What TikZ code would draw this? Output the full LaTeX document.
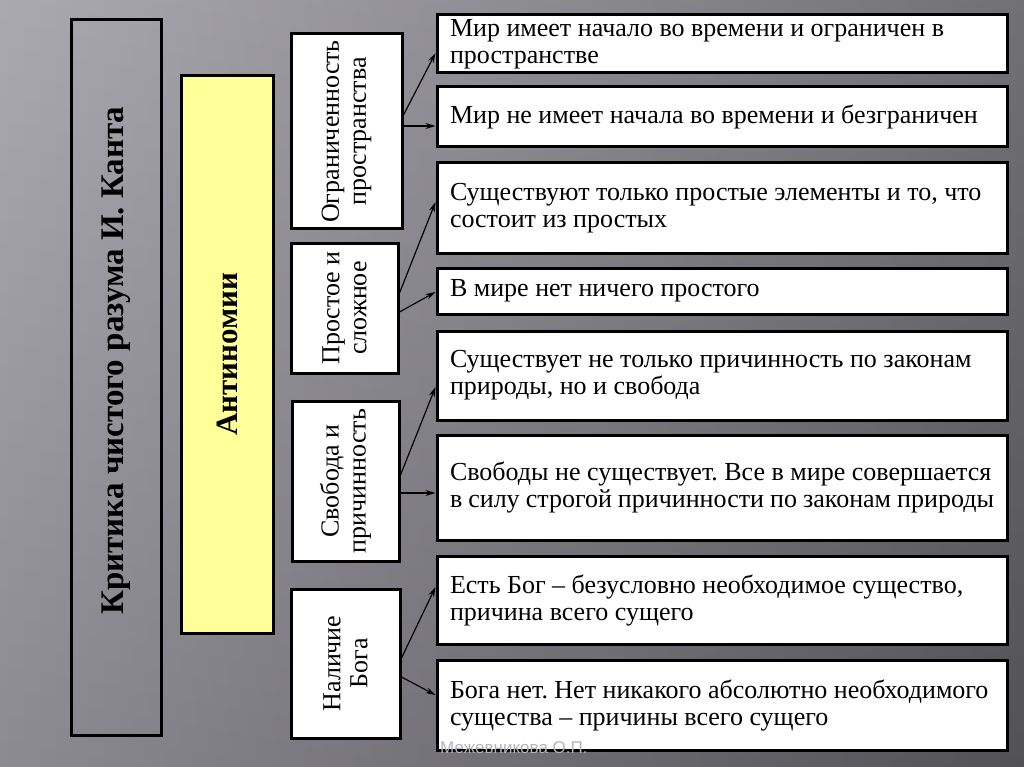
\documentclass[tikz,border=0pt]{standalone}
\usepackage{fontspec}
\setmainfont{Liberation Serif}
\newfontfamily\marksans{Liberation Sans}
\usetikzlibrary{arrows.meta}
\definecolor{bgleft}{HTML}{A09EA6}
\definecolor{bgright}{HTML}{5E5D62}
\definecolor{antiyellow}{HTML}{FFFF99}
\definecolor{markgray}{HTML}{B4B3BA}
\frenchspacing
\begin{document}
\begin{tikzpicture}[x=1pt, y=-1pt,
    frame/.style={draw, line width=3pt, inner sep=0pt},
    vbox/.style={frame, rotate=90, align=center, font=\fontsize{26}{27}\selectfont},
    rbox/.style={frame, fill=white, inner xsep=13pt, text width=544pt, align=flush left, font=\fontsize{26}{27}\selectfont},
    arrow/.style={-{Stealth[length=10pt, width=6pt]}, line width=1.2pt}
]
    % Background
    \shade[left color=bgleft, right color=bgright] (0,0) rectangle (1024,767);
    \shade[top color=white, bottom color=black, opacity=0.12] (0,0) rectangle (1024,767);
    \useasboundingbox (0,0) rectangle (1024,767);

    % Title and heading columns
    \node[vbox, minimum width=715pt, minimum height=90pt, font=\fontsize{33}{34}\selectfont\bfseries] (kant) at (116,377.5) {\hspace*{34pt}Критика чистого разума И. Канта};
    \node[vbox, fill=antiyellow, minimum width=557pt, minimum height=92pt, font=\fontsize{31}{34}\selectfont\bfseries] (anti) at (227,354.5) {Антиномии};

    % Antinomy topics
    \node[vbox, fill=white, minimum width=195pt, minimum height=111pt] (lim) at (346.5,131.5) {Ограниченность\\пространства};
    \node[vbox, fill=white, minimum width=130pt, minimum height=107pt] (simple) at (344.5,308) {Простое и\\сложное};
    \node[vbox, fill=white, minimum width=160pt, minimum height=107pt] (free) at (345.5,481) {Свобода и\\причинность};
    \node[vbox, fill=white, minimum width=149pt, minimum height=109pt] (god) at (345.5,663.5) {Наличие\\Бога};

    % Thesis and antithesis
    \node[rbox, minimum height=58pt] (w1) at (722,44) {Мир имеет начало во времени и ограничен в пространстве};
    \node[rbox, minimum height=60pt] (w2) at (722,117) {Мир не имеет начала во времени и безграничен};
    \node[rbox, minimum height=90pt] (s1) at (722,208) {Существуют только простые элементы и то, что состоит из простых};
    \node[rbox, minimum height=46pt] (s2) at (722,291) {В мире нет ничего простого};
    \node[rbox, minimum height=89pt] (f1) at (722,375.5) {Существует не только причинность по законам природы, но и свобода};
    \node[rbox, minimum height=105pt] (f2) at (722,487.5) {Свободы не существует. Все в мире совершается в силу строгой причинности по законам природы};
    \node[rbox, minimum height=88pt] (g1) at (722,600) {Есть Бог – безусловно необходимое существо, причина всего сущего};
    \node[rbox, minimum height=90pt] (g2) at (722,705) {Бога нет. Нет никакого абсолютно необходимого существа – причины всего сущего};

    % Arrows
    \draw[arrow] ([yshift=16.5pt]lim.south) -- ([yshift=-9pt]w1.west);
    \draw[arrow] ([yshift=5.5pt]lim.south) -- ([yshift=-9pt]w2.west);
    \draw[arrow] ([yshift=15pt]simple.south) -- ([yshift=6pt]s1.west);
    \draw[arrow] ([yshift=-4pt]simple.south) -- ([yshift=-1pt]s2.west);
    \draw[arrow] ([yshift=6pt]free.south) -- ([yshift=-11.5pt]f1.west);
    \draw[arrow] ([yshift=-12pt]free.south) -- ([yshift=-5.5pt]f2.west);
    \draw[arrow] ([yshift=5.5pt]god.south) -- ([yshift=13pt]g1.west);
    \draw[arrow] ([yshift=-13.5pt]god.south) -- ([yshift=10pt]g2.west);

    % Watermark
    \node[anchor=west, inner sep=0pt, text=markgray, font=\marksans\fontsize{17}{17}\selectfont] (mark) at (440,748) {Межевникова О.П.};

\end{tikzpicture}
\end{document}
